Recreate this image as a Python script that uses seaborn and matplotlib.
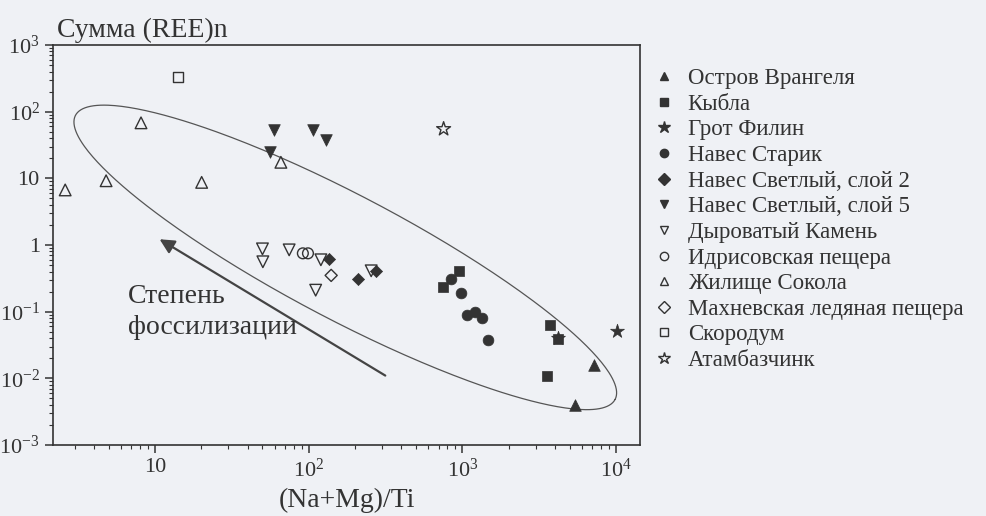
import numpy as np
import pandas as pd
import matplotlib
matplotlib.use("Agg")
import matplotlib.pyplot as plt
import matplotlib.ticker as mticker
from matplotlib.lines import Line2D
import seaborn as sns

# data
groups = ['Остров Врангеля', 'Кыбла', 'Грот Филин', 'Навес Старик',
          'Навес Светлый, слой 2', 'Навес Светлый, слой 5', 'Дыроватый Камень',
          'Идрисовская пещера', 'Жилище Сокола', 'Махневская ледяная пещера',
          'Скородум', 'Атамбазчинк']
markers = ['^', 's', '*', 'o', 'D', 'v', 'v', 'o', '^', 'D', 's', '*']
filled = [True, True, True, True, True, True, False, False, False, False, False, False]

x_vals = [
    [7160, 5370],
    [745, 955, 3740, 3560, 4180],
    [10190, 4180],
    [847, 982, 1074, 1211, 1343, 1462],
    [136, 208, 274],
    [59.8, 107, 130, 56],
    [50, 50.3, 74.6, 120, 111, 255],
    [91.6, 98.9],
    [8.1, 4.8, 2.6, 20.1, 65.9],
    [140],
    [14.1],
    [755],
]
y_vals = [
    [0.0158, 0.0040],
    [0.238, 0.41, 0.063, 0.011, 0.039],
    [0.0515, 0.040],
    [0.31, 0.19, 0.089, 0.10, 0.079, 0.038],
    [0.61, 0.31, 0.41],
    [53, 54, 37, 24.6],
    [0.875, 0.56, 0.845, 0.60, 0.21, 0.41],
    [0.75, 0.75],
    [68, 9.2, 6.7, 8.7, 17.4],
    [0.35],
    [328],
    [55],
]

x_ticks = [10, 100, 1000, 10000]
x_ticklabels = ['10', '10$^{2}$', '10$^{3}$', '10$^{4}$']
y_ticks = [1e-3, 1e-2, 1e-1, 1, 10, 100, 1000]
y_ticklabels = ['10$^{-3}$', '10$^{-2}$', '10$^{-1}$', '1', '10', '10$^{2}$', '10$^{3}$']

# outline of the field (ellipse in log10 space)
ell_center = (2.238, -0.186)
ell_major = (1.756, -2.131)
ell_minor = (-0.188, -0.822)

rows = []
for g, xs, ys in zip(groups, x_vals, y_vals):
    for xv, yv in zip(xs, ys):
        rows.append({'group': g, 'x': xv, 'y': yv})
df = pd.DataFrame(rows)

bg = '#eff1f5'
ink = '#333333'

sns.set_style('ticks')
plt.rcParams['font.family'] = ['Liberation Serif', 'DejaVu Serif']
plt.rcParams['mathtext.fontset'] = 'custom'
plt.rcParams['mathtext.rm'] = 'Liberation Serif'
plt.rcParams['mathtext.it'] = 'Liberation Serif:italic'

fig = plt.figure(figsize=(9.86, 5.16), dpi=100, facecolor=bg)
ax = fig.add_axes([53 / 986, 71 / 516, 587 / 986, 400 / 516], facecolor=bg)

sizes = {'^': 70, 'v': 70, 's': 50, 'o': 60, 'D': 38, '*': 110}
for g, m, f in zip(groups, markers, filled):
    sub = df[df['group'] == g]
    sns.scatterplot(data=sub, x='x', y='y', ax=ax, marker=m, s=sizes[m],
                    color=ink, edgecolor=ink,
                    facecolor=ink if f else 'none',
                    linewidth=1.0 if not f else 0.5, zorder=3)

t = np.linspace(0, 2 * np.pi, 400)
ex = ell_center[0] + ell_major[0] * np.cos(t) + ell_minor[0] * np.sin(t)
ey = ell_center[1] + ell_major[1] * np.cos(t) + ell_minor[1] * np.sin(t)
ax.plot(10 ** ex, 10 ** ey, color='#555555', lw=0.9, zorder=2)

ax.annotate('', xy=(10.7, 1.22), xytext=(315, 0.011),
            arrowprops=dict(arrowstyle='-|>', color='#444444', lw=1.6,
                            mutation_scale=22, shrinkA=0, shrinkB=0))
ax.text(6.7, 0.1, 'Степень\nфоссилизации', fontsize=20, color=ink,
        ha='left', va='center', linespacing=1.3)

ax.set_xscale('log')
ax.set_yscale('log')
ax.set_xlim(2.166, 14330)
ax.set_ylim(1e-3, 1e3)
ax.xaxis.set_major_locator(mticker.FixedLocator(x_ticks))
ax.xaxis.set_major_formatter(mticker.FixedFormatter(x_ticklabels))
ax.yaxis.set_major_locator(mticker.FixedLocator(y_ticks))
ax.yaxis.set_major_formatter(mticker.FixedFormatter(y_ticklabels))
ax.xaxis.set_minor_locator(mticker.LogLocator(subs=np.arange(2, 10), numticks=20))
ax.yaxis.set_minor_locator(mticker.LogLocator(subs=np.arange(2, 10), numticks=20))
ax.xaxis.set_minor_formatter(mticker.NullFormatter())
ax.yaxis.set_minor_formatter(mticker.NullFormatter())
ax.tick_params(which='major', length=6, width=1.1, color=ink, labelsize=16,
               labelcolor=ink, direction='out')
ax.tick_params(which='minor', length=3, width=0.8, color=ink, direction='out')
for sp in ax.spines.values():
    sp.set_color(ink)
    sp.set_linewidth(1.2)

ax.set_xlabel('(Na+Mg)/Ti', fontsize=20, color=ink, labelpad=5)
ax.set_ylabel('')
ax.text(0.007, 1.02, 'Сумма (REE)n', transform=ax.transAxes, fontsize=20,
        color=ink, ha='left', va='baseline')

handles = []
for g, m, f in zip(groups, markers, filled):
    ms = 9 if m == '*' else 6
    handles.append(Line2D([], [], linestyle='none', marker=m, markersize=ms,
                          color=ink, markerfacecolor=ink if f else 'none',
                          markeredgewidth=1.0, label=g))
fig.legend(handles=handles, loc='upper left', bbox_to_anchor=(643 / 986, 1 - 59 / 516),
           frameon=False, fontsize=16.5, labelspacing=0.2, handletextpad=0.55,
           handlelength=1.0, labelcolor=ink, borderaxespad=0)

fig.savefig('out.png', dpi=100, facecolor=bg)
